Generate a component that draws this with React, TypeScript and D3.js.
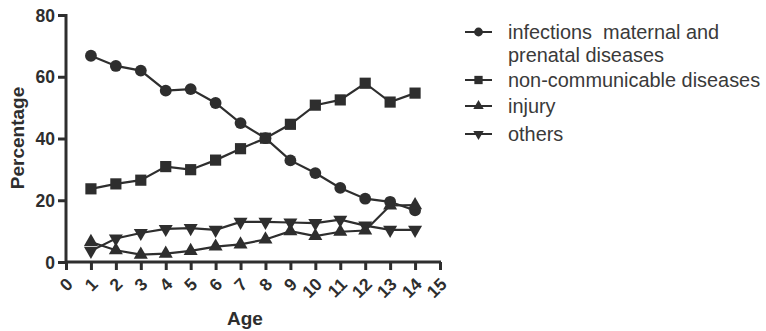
import React, { useEffect, useRef } from "react";
import * as d3 from "d3";

const ages = [1, 2, 3, 4, 5, 6, 7, 8, 9, 10, 11, 12, 13, 14];
const infections = [66.8, 63.5, 62.0, 55.5, 56.0, 51.5, 45.0, 40.1, 32.9, 28.8, 24.0, 20.5, 19.5, 16.7];
const nonCommunicable = [23.7, 25.3, 26.5, 30.9, 29.9, 33.0, 36.7, 40.1, 44.6, 50.8, 52.5, 57.9, 51.8, 54.7];
const injury = [6.5, 3.8, 2.4, 2.7, 3.6, 5.0, 5.7, 7.3, 10.0, 8.4, 9.8, 10.2, 18.3, 18.4];
const others = [3.6, 7.6, 9.4, 10.7, 11.0, 10.4, 13.0, 13.0, 12.8, 12.6, 13.7, 11.8, 10.4, 10.4];
const xTicks = d3.range(0, 16);
const yTicks = [0, 20, 40, 60, 80];
const seriesNames = ["infections  maternal and\nprenatal diseases", "non-communicable diseases", "injury", "others"];

export default function App() {
  const ref = useRef<SVGSVGElement>(null);
  useEffect(() => {
    const svg = d3.select(ref.current);
    svg.selectAll("*").remove();
    const ink = "#2e2e2e";
    const x = d3.scaleLinear().domain([0, 15]).range([66, 440]);
    const y = d3.scaleLinear().domain([0, 80]).range([262, 15]);

    const series = [
      { vals: infections, sym: d3.symbolCircle, size: 110, rot: 0 },
      { vals: nonCommunicable, sym: d3.symbolSquare, size: 125, rot: 0 },
      { vals: injury, sym: d3.symbolTriangle, size: 85, rot: 0 },
      { vals: others, sym: d3.symbolTriangle, size: 85, rot: 180 },
    ];

    // axes
    const yAxis = svg.append("g").attr("transform", "translate(66,0)")
      .call(d3.axisLeft(y).tickValues(yTicks).tickSize(8).tickPadding(3).tickFormat(d3.format("d")));
    yAxis.select(".domain").attr("stroke", ink).attr("stroke-width", 3).attr("d", "M0,262V14");
    yAxis.selectAll(".tick line").attr("stroke", ink).attr("stroke-width", 3);
    yAxis.selectAll(".tick text").attr("fill", ink).attr("font-size", 17.5).attr("font-weight", "bold")
      .attr("font-family", "Liberation Sans, Arial, sans-serif").attr("dy", "0.35em");

    const xAxis = svg.append("g").attr("transform", "translate(0,262)")
      .call(d3.axisBottom(x).tickValues(xTicks).tickSize(8).tickFormat(d3.format("d")));
    xAxis.select(".domain").attr("stroke", ink).attr("stroke-width", 3).attr("d", "M65,0H441");
    xAxis.selectAll(".tick line").attr("stroke", ink).attr("stroke-width", 3);
    xAxis.selectAll(".tick text").attr("fill", ink).attr("font-size", 17.5).attr("font-weight", "bold")
      .attr("font-family", "Liberation Sans, Arial, sans-serif")
      .attr("y", 0).attr("dy", "0.35em").attr("text-anchor", "end")
      .attr("transform", "translate(3,19) rotate(-45)");
    svg.selectAll(".domain").attr("fill", "none");

    // lines
    const line = d3.line<number>().x((_, i) => x(ages[i])).y((d) => y(d));
    series.forEach((s) => {
      svg.append("path").attr("d", line(s.vals)).attr("fill", "none").attr("stroke", ink).attr("stroke-width", 2.2);
      svg.append("g").selectAll("path").data(s.vals).join("path")
        .attr("d", d3.symbol().type(s.sym).size(s.size)())
        .attr("transform", (d, i) => `translate(${x(ages[i])},${y(d)}) rotate(${s.rot})`)
        .attr("fill", ink);
    });

    // axis titles
    svg.append("text").attr("x", 245).attr("y", 325).attr("text-anchor", "middle")
      .attr("font-size", 19).attr("font-weight", "bold").attr("fill", ink)
      .attr("font-family", "Liberation Sans, Arial, sans-serif").text("Age");
    svg.append("text").attr("transform", "translate(24,138) rotate(-90)").attr("text-anchor", "middle")
      .attr("font-size", 19).attr("font-weight", "bold").attr("fill", ink)
      .attr("font-family", "Liberation Sans, Arial, sans-serif").text("Percentage");

    // legend
    const rowsY = [32, 80, 106, 134];
    const lg = svg.append("g");
    series.forEach((s, i) => {
      const cy = rowsY[i];
      lg.append("line").attr("x1", 465).attr("x2", 492).attr("y1", cy).attr("y2", cy).attr("stroke", ink).attr("stroke-width", 2);
      lg.append("path").attr("d", d3.symbol().type(s.sym).size(s.size * 0.55)())
        .attr("transform", `translate(478.5,${cy}) rotate(${s.rot})`).attr("fill", ink);
      const lines = seriesNames[i].split("\n");
      lines.forEach((t, j) => {
        lg.append("text").attr("x", 508).attr("y", cy + j * 23).attr("dy", "0.35em")
          .attr("font-size", 19.9).attr("fill", "#3a3a3a")
          .attr("font-family", "Liberation Sans, Arial, sans-serif")
          .attr("xml:space", "preserve").style("white-space", "pre").text(t);
      });
    });
  }, []);
  return (
    <svg ref={ref} width={766} height={331} style={{ position: "absolute", left: 0, top: 0, background: "#fff" }} />
  );
}
